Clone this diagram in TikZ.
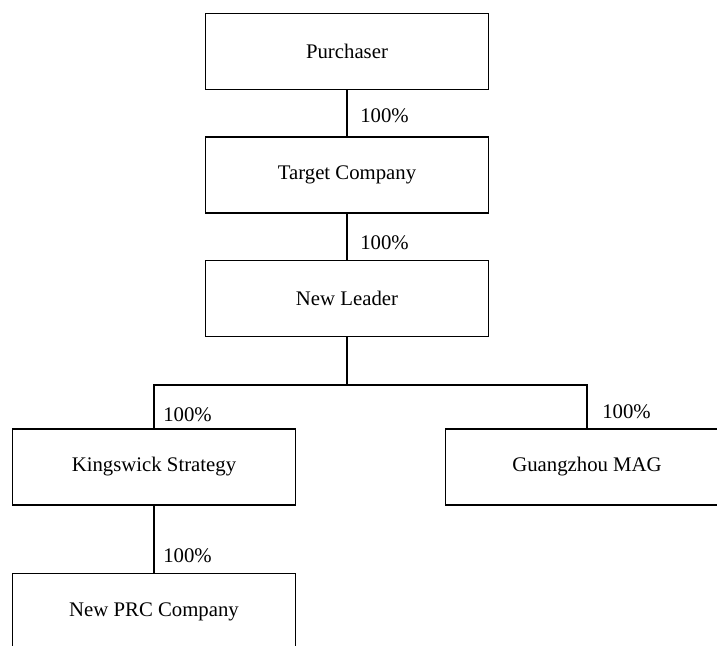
\documentclass[tikz,border=0pt]{standalone}
\usepackage{fontspec}
\setmainfont{Liberation Serif}
\tikzset{
  cobox/.style={draw, line width=1pt, minimum width=163.6pt, minimum height=43.9pt, inner sep=0pt, font=\fontsize{12}{14}\selectfont},
  share/.style={anchor=base west, inner sep=0pt, font=\fontsize{12}{14}\selectfont},
  link/.style={line width=1pt}
}
\begin{document}
\begin{tikzpicture}[x=0.578pt, y=-0.578pt]
\useasboundingbox (0,0) rectangle (717,646);
\begin{scope}
\clip (0,0) rectangle (717,646);
\node[cobox] (pur) at (347,51.5){Purchaser};
\node[cobox] (tgt) at (347,175){Target Company};
\node[cobox] (nl) at (347,298.5){New Leader};
\node[cobox] (ks) at (154,467){Kingswick Strategy};
\node[cobox] (gz) at (587,467){Guangzhou MAG};
\node[cobox] (prc) at (154,611.5){New PRC Company};
\coordinate (split) at (347,385);
\draw[link](pur) -- (tgt);
\draw[link](tgt) -- (nl);
\draw[link](nl) -- (split);
\draw[link](split) -| (ks.north);
\draw[link](split) -| (gz.north);
\draw[link](ks) -- (prc);
\node[share] (s1) at (360,123){100\%};
\node[share] (s2) at (360,250){100\%};
\node[share] (s3) at (163,422){100\%};
\node[share] (s4) at (602,419){100\%};
\node[share] (s5) at (163,563){100\%};
\end{scope}
\end{tikzpicture}
\end{document}
